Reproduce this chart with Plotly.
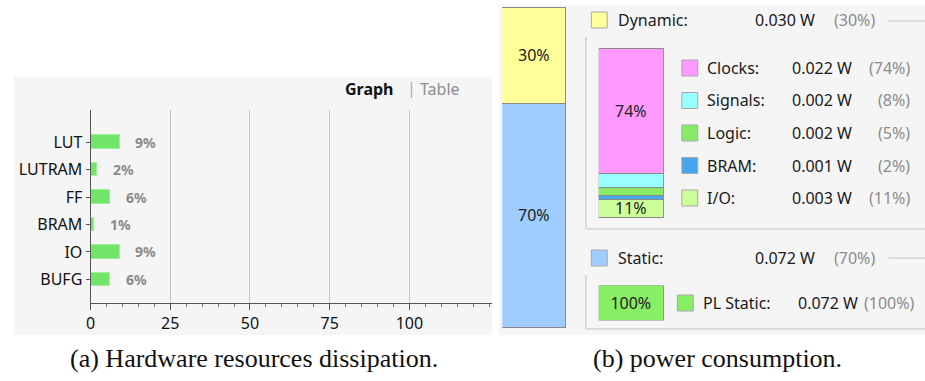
import plotly.graph_objects as go

W, H = 925, 381

# ---------------- data ----------------
resources = ["LUT", "LUTRAM", "FF", "BRAM", "IO", "BUFG"]
utilization = [9, 2, 6, 1, 9, 6]
x_ticks = [0, 25, 50, 75, 100]

total_parts = ["Dynamic", "Static"]
total_watts = ["0.030 W", "0.072 W"]
total_pct = [30, 70]

dyn_parts = ["Clocks", "Signals", "Logic", "BRAM", "I/O"]
dyn_watts = ["0.022 W", "0.002 W", "0.002 W", "0.001 W", "0.003 W"]
dyn_pct = [74, 8, 5, 2, 11]

static_parts = ["PL Static"]
static_watts = ["0.072 W"]
static_pct = [100]

captions = ["(a) Hardware resources dissipation.", "(b) power consumption."]

# ---------------- styles ----------------
FONT = "Noto Sans"
FS = 16
C_BAR = "#72e46a"
C_DYN = "#ffff99"
C_STA = "#9fcdff"
dyn_colors = ["#ff99ff", "#99ffff", "#88ea66", "#48a4ec", "#ccff99"]
static_colors = ["#88ee66"]
EDGE = "#8a8a8a"
PANEL = "#f5f5f5"


def X(px):
    return px / W


def Y(py):
    return 1 - py / H


fig = go.Figure()

# ---- (a) resource utilisation bars ----
fig.add_trace(go.Bar(
    x=utilization, y=list(range(len(resources))), orientation="h",
    marker=dict(color=C_BAR, line=dict(color="#9ff09a", width=1)),
    width=0.5, xaxis="x", yaxis="y", showlegend=False, hoverinfo="skip"))

# ---- (b) total power stacked bar ----
tot_colors = {"Dynamic": C_DYN, "Static": C_STA}
for name in ["Static", "Dynamic"]:
    i = total_parts.index(name)
    fig.add_trace(go.Bar(
        x=[0], y=[total_pct[i]], width=[1],
        marker=dict(color=tot_colors[name], line=dict(color=EDGE, width=1)),
        text=[f"{total_pct[i]}%"], textposition="inside", insidetextanchor="middle",
        textangle=0, constraintext="none", textfont=dict(family=FONT, size=FS, color="#222"),
        xaxis="x2", yaxis="y2", showlegend=False, hoverinfo="skip"))

# dynamic breakdown (bottom -> top)
for i in reversed(range(len(dyn_parts))):
    show = dyn_pct[i] >= 10
    fig.add_trace(go.Bar(
        x=[0], y=[dyn_pct[i]], width=[1],
        marker=dict(color=dyn_colors[i], line=dict(color=EDGE, width=1)),
        text=[f"{dyn_pct[i]}%" if show else ""], textposition="inside",
        insidetextanchor="middle", textangle=0, constraintext="none",
        textfont=dict(family=FONT, size=FS, color="#222"),
        xaxis="x3", yaxis="y3", showlegend=False, hoverinfo="skip"))

# static breakdown
for i in range(len(static_parts)):
    fig.add_trace(go.Bar(
        x=[0], y=[static_pct[i]], width=[1],
        marker=dict(color=static_colors[i], line=dict(color=EDGE, width=1)),
        text=[f"{static_pct[i]}%"], textposition="inside", insidetextanchor="middle",
        textangle=0, constraintext="none", textfont=dict(family=FONT, size=FS, color="#222"),
        xaxis="x4", yaxis="y4", showlegend=False, hoverinfo="skip"))

hidden = dict(visible=False, fixedrange=True)

# ---------------- shapes ----------------
shapes = []
# panel backgrounds
shapes.append(dict(type="rect", xref="paper", yref="paper", x0=X(9), x1=X(490), y0=Y(335), y1=Y(77),
                   fillcolor=PANEL, line=dict(width=0), layer="below"))
shapes.append(dict(type="rect", xref="paper", yref="paper", x0=X(497), x1=X(925), y0=Y(335), y1=Y(5),
                   fillcolor=PANEL, line=dict(width=0), layer="below"))
# group boxes
GB = dict(color="#d2d2d2", width=1.5)
shapes += [
    dict(type="line", xref="paper", yref="paper", x0=X(584), x1=X(584), y0=Y(37), y1=Y(229), line=GB),
    dict(type="line", xref="paper", yref="paper", x0=X(584), x1=X(925), y0=Y(229), y1=Y(229), line=GB),
    dict(type="line", xref="paper", yref="paper", x0=X(584), x1=X(584), y0=Y(275), y1=Y(329), line=GB),
    dict(type="line", xref="paper", yref="paper", x0=X(584), x1=X(925), y0=Y(329), y1=Y(329), line=GB),
    dict(type="line", xref="paper", yref="paper", x0=X(888), x1=X(925), y0=Y(21), y1=Y(21), line=GB),
    dict(type="line", xref="paper", yref="paper", x0=X(888), x1=X(925), y0=Y(258), y1=Y(258), line=GB),
]


def square(cx, cy, color, s=16):
    return dict(type="rect", xref="paper", yref="paper",
                x0=X(cx - s / 2), x1=X(cx + s / 2), y0=Y(cy + s / 2), y1=Y(cy - s / 2),
                fillcolor=color, line=dict(color="#a8a8a8", width=1))


annotations = []


def text(x, y, s, color="#1a1a1a", size=FS, anchor="left", bold=False, family=FONT):
    annotations.append(dict(xref="paper", yref="paper", x=X(x), y=Y(y), text=f"<b>{s}</b>" if bold else s,
                            showarrow=False, xanchor=anchor, yanchor="middle",
                            font=dict(family=family, size=size, color=color)))


# top-level legend rows
rows_y = {"Dynamic": 20, "Static": 258}
for i, name in enumerate(total_parts):
    cy = rows_y[name]
    shapes.append(square(597.5, cy, tot_colors[name]))
    text(614, cy, f"{name}:")
    text(752, cy, total_watts[i])
    text(831, cy, f"({total_pct[i]}%)", color="#8c8c8c")

# dynamic legend
for i, name in enumerate(dyn_parts):
    cy = 68 + i * 32.5
    shapes.append(square(688.5, cy, dyn_colors[i]))
    text(704, cy, f"{name}:")
    text(789, cy, dyn_watts[i])
    text(912, cy, f"({dyn_pct[i]}%)", color="#8c8c8c", anchor="right")

# static legend
for i, name in enumerate(static_parts):
    cy = 303
    shapes.append(square(684, cy, static_colors[i]))
    text(700, cy, f"{name}:")
    text(795, cy, static_watts[i])
    text(917, cy, f"({static_pct[i]}%)", color="#8c8c8c", anchor="right")

# Graph | Table
text(340, 89, "Graph", color="#111", size=FS, bold=True)
text(402, 88, "|", color="#aaaaaa", size=FS)
text(415, 89, "Table", color="#8c8c8c", size=FS)

# value labels next to bars (data coordinates)
for i, v in enumerate(utilization):
    annotations.append(dict(xref="x", yref="y", x=v, y=i, text=f"<b>{v}%</b>", showarrow=False,
                            xanchor="left", yanchor="middle", xshift=14,
                            font=dict(family=FONT, size=14, color="#8a8a8a")))

# captions
text(250, 358, captions[0], color="#111", size=26, anchor="center", family="Liberation Serif")
text(716, 358, captions[1], color="#111", size=26, anchor="center", family="Liberation Serif")

fig.update_layout(
    width=W, height=H, autosize=False, margin=dict(l=0, r=0, t=0, b=0),
    paper_bgcolor="white", plot_bgcolor="rgba(0,0,0,0)",
    barmode="stack", bargap=0, showlegend=False,
    font=dict(family=FONT, size=FS, color="#1a1a1a"),
    shapes=shapes, annotations=annotations,
    xaxis=dict(domain=[X(86), X(490)], range=[0, 126], tickvals=x_ticks,
               ticks="outside", ticklen=6, tickcolor="#555", showline=True, linecolor="#555",
               showgrid=True, gridcolor="#c4c4c4", gridwidth=1, zeroline=False,
               minor=dict(dtick=5, tick0=0, ticks="outside", ticklen=3, tickcolor="#777", showgrid=False),
               tickfont=dict(family=FONT, size=FS, color="#111"), fixedrange=True),
    yaxis=dict(domain=[Y(303), Y(110)], range=[5.855, -1.164],
               tickvals=list(range(len(resources))), ticktext=resources,
               ticks="outside", ticklen=4, tickcolor="#555", showline=True, linecolor="#555",
               showgrid=False, zeroline=False, tickfont=dict(family=FONT, size=FS, color="#111"),
               fixedrange=True),
    xaxis2=dict(domain=[X(500), X(564.5)], range=[-0.505, 0.505], anchor="y2", **hidden),
    yaxis2=dict(domain=[Y(328), Y(6.5)], range=[-0.2, 100.2], anchor="x2", **hidden),
    xaxis3=dict(domain=[X(597), X(662.5)], range=[-0.505, 0.505], anchor="y3", **hidden),
    yaxis3=dict(domain=[Y(218.5), Y(47.5)], range=[-0.3, 100.3], anchor="x3", **hidden),
    xaxis4=dict(domain=[X(597), X(662.5)], range=[-0.505, 0.505], anchor="y4", **hidden),
    yaxis4=dict(domain=[Y(320.5), Y(285.5)], range=[-1, 101], anchor="x4", **hidden),
)

fig.write_html("out.html", config={"displayModeBar": False},
               post_script="document.body.style.margin='0';document.body.style.overflow='hidden';")
